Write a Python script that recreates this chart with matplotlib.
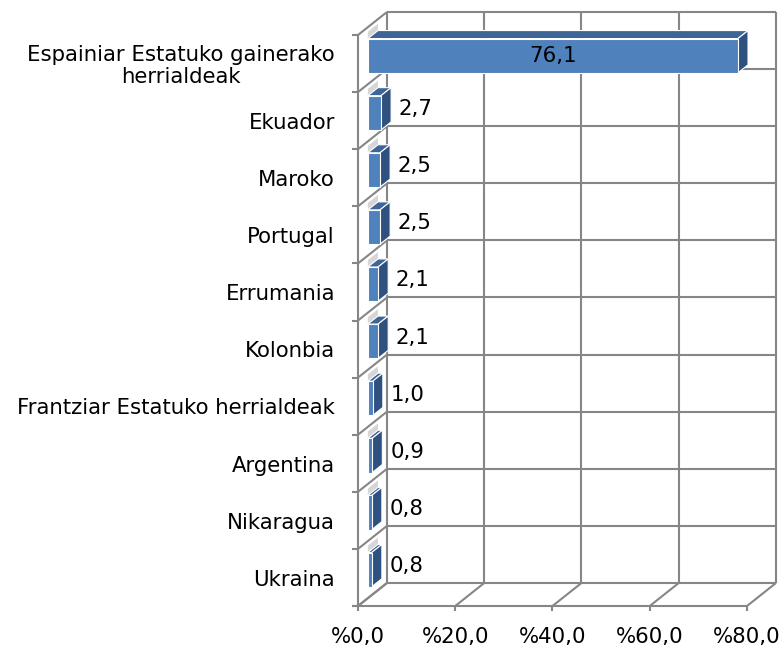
import matplotlib
matplotlib.use("Agg")
import matplotlib.pyplot as plt
from matplotlib.patches import Polygon

# Data
categories = [
    "Espainiar Estatuko gainerako\nherrialdeak",
    "Ekuador",
    "Maroko",
    "Portugal",
    "Errumania",
    "Kolonbia",
    "Frantziar Estatuko herrialdeak",
    "Argentina",
    "Nikaragua",
    "Ukraina",
]
values = [76.1, 2.7, 2.5, 2.5, 2.1, 2.1, 1.0, 0.9, 0.8, 0.8]
tick_values = [0, 20, 40, 60, 80]
tick_labels = ["%0,0", "%20,0", "%40,0", "%60,0", "%80,0"]

# Oblique 3D projection parameters (in data units)
DEPTH_X = 5.96      # value-axis shift for full depth
DEPTH_Y = 0.403     # category-axis shift for full depth
D0, D1 = 0.34, 0.69  # bar front / back depth
GAP = 0.2

GRID = "#868686"
FRONT = "#4F81BD"
TOP = "#3F6597"
SIDE = "#2F5180"
FS = 15.3


def proj(v, y, d):
    return (v + d * DEPTH_X, y + d * DEPTH_Y)


n = len(categories)
vmax = tick_values[-1]

fig = plt.figure(figsize=(7.84, 6.55), dpi=100)
ax = fig.add_axes([0, 0, 1, 1])
ax.set_xlim(-73.62, 87.61)
ax.set_ylim(-0.858, 10.613)
ax.axis("off")

lw = 1.5


def line(p, q, z=1):
    ax.plot([p[0], q[0]], [p[1], q[1]], color=GRID, lw=lw, zorder=z,
            solid_capstyle="butt")


# Back wall
for t in tick_values:
    line(proj(t, 0, 1), proj(t, n, 1))
for k in range(n + 1):
    line(proj(0, k, 1), proj(vmax, k, 1))

# Left wall
line(proj(0, 0, 0), proj(0, n, 0))
for k in range(n + 1):
    line(proj(0, k, 0), proj(0, k, 1))
    p = proj(0, k, 0)
    line((p[0] - 1.23, p[1]), p)

# Floor
line(proj(-1.23, 0, 0), proj(vmax, 0, 0))
for t, lab in zip(tick_values, tick_labels):
    line(proj(t, 0, 0), proj(t, 0, 1))
    p = proj(t, 0, 0)
    line(p, (p[0], p[1] - 0.09))
    ax.text(p[0], p[1] - 0.55, lab, ha="center", va="center",
            fontsize=FS, color="black")

# Bars
for i, v in enumerate(values):
    yb = n - 1 - i + GAP
    yt = n - i - GAP
    # soft shadow patches at the bar's left end
    shade = [proj(0, yt, D0), proj(0, yt, D1),
             proj(0, yt + 0.12, D1), proj(0, yt + 0.12, D0)]
    ax.add_patch(Polygon(shade, closed=True, fc="#BBBBBB", ec="none",
                         alpha=0.6, zorder=3))
    top = [proj(0, yt, D0), proj(v, yt, D0), proj(v, yt, D1), proj(0, yt, D1)]
    side = [proj(v, yb, D0), proj(v, yb, D1), proj(v, yt, D1), proj(v, yt, D0)]
    front = [proj(0, yb, D0), proj(v, yb, D0), proj(v, yt, D0), proj(0, yt, D0)]
    for poly, c in ((top, TOP), (side, SIDE), (front, FRONT)):
        ax.add_patch(Polygon(poly, closed=True, fc=c, ec="white", lw=0.8,
                             zorder=4, joinstyle="miter"))
    label = f"{v:.1f}".replace(".", ",")
    ym = (yb + yt) / 2
    if v > 20:
        cx, cy = proj(v / 2, ym, D0)
        ax.text(cx, cy, label, ha="center", va="center", fontsize=FS,
                color="black", zorder=6)
    else:
        cx, cy = proj(v, ym, 0.5)
        ax.text(cx + DEPTH_X * 0.19 + 1.6, cy, label, ha="left", va="center",
                fontsize=FS, color="black", zorder=6)
    # category label
    ax.text(-4.73, n - i - 0.5 - 0.04, categories[i], ha="right", va="center",
            multialignment="center", fontsize=FS, color="black",
            linespacing=1.12)

fig.savefig("out.png", dpi=100)
